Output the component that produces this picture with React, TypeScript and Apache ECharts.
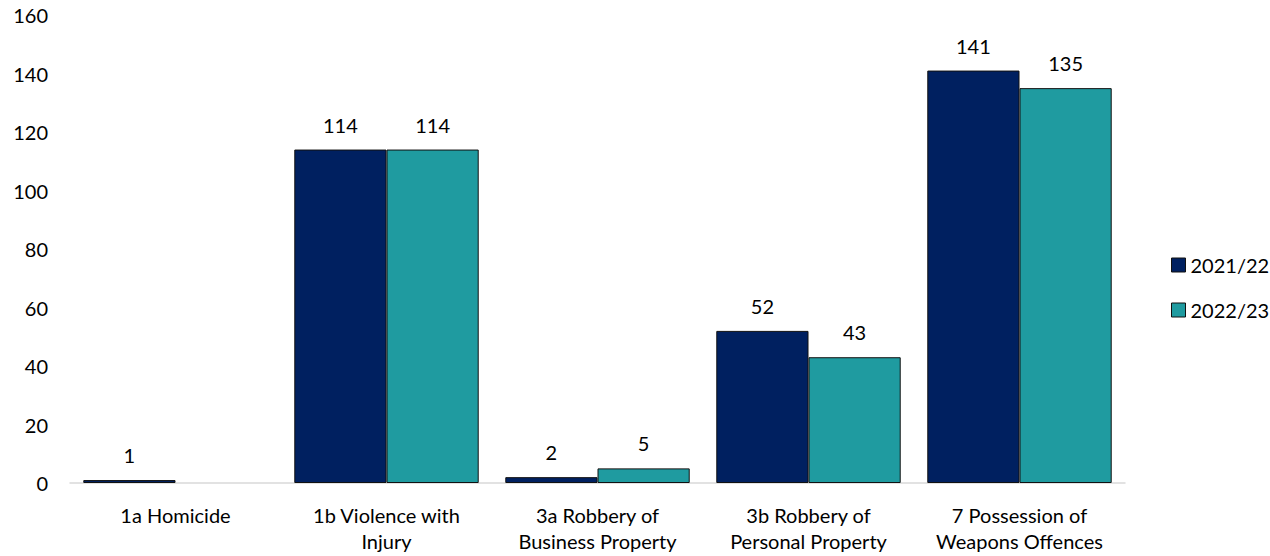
import React, { useEffect, useRef } from "react";
import * as echarts from "echarts";

const categories = [
  "1a Homicide",
  "1b Violence with\nInjury",
  "3a Robbery of\nBusiness Property",
  "3b Robbery of\nPersonal Property",
  "7 Possession of\nWeapons Offences",
];
const series2122 = [1, 114, 2, 52, 141];
const series2223: (number | null)[] = [null, 114, 5, 43, 135];
const yTicks = { min: 0, max: 160, interval: 20 };

const FONT = "Lato, 'Open Sans', sans-serif";
const FS = 20;

export default function App() {
  const ref = useRef<HTMLDivElement>(null);
  useEffect(() => {
    document.body.style.margin = "0";
    if (!ref.current) return;
    const chart = echarts.init(ref.current, null, { renderer: "svg" });
    const labelCfg = {
      show: true,
      position: "top" as const,
      distance: 15,
      color: "#000",
      fontSize: FS,
      fontFamily: FONT,
    };
    chart.setOption({
      animation: false,
      textStyle: { fontFamily: FONT },
      grid: { left: 70, right: 145, top: 15, bottom: 73 },
      legend: {
        orient: "vertical",
        left: 1166,
        top: 250,
        itemWidth: 14,
        itemHeight: 14,
        itemGap: 25,
        icon: "rect",
        itemStyle: { borderColor: "#111", borderWidth: 1 },
        textStyle: { fontSize: FS, color: "#000", fontFamily: FONT },
        data: ["2021/22", "2022/23"],
      },
      xAxis: {
        type: "category",
        data: categories,
        axisLine: { lineStyle: { color: "#d9d9d9", width: 1.5 } },
        axisTick: { show: false },
        axisLabel: {
          color: "#000",
          fontSize: FS,
          fontFamily: FONT,
          margin: 19,
          lineHeight: 26,
          interval: 0,
        },
      },
      yAxis: {
        type: "value",
        min: yTicks.min,
        max: yTicks.max,
        interval: yTicks.interval,
        splitLine: { show: false },
        axisLine: { show: false },
        axisTick: { show: false },
        axisLabel: {
          color: "#000",
          fontSize: FS,
          fontFamily: FONT,
          margin: 22,
          padding: [10, 0, 0, 0],
        },
      },
      series: [
        {
          name: "2021/22",
          type: "bar",
          data: series2122,
          barGap: "0%",
          barCategoryGap: "12.6%",
          itemStyle: { color: "#002060", borderColor: "#111", borderWidth: 1 },
          label: labelCfg,
        },
        {
          name: "2022/23",
          type: "bar",
          data: series2223,
          itemStyle: { color: "#1f9ba0", borderColor: "#111", borderWidth: 1 },
          label: labelCfg,
        },
      ],
    });
    return () => chart.dispose();
  }, []);
  return <div ref={ref} style={{ width: 1270, height: 556 }} />;
}
